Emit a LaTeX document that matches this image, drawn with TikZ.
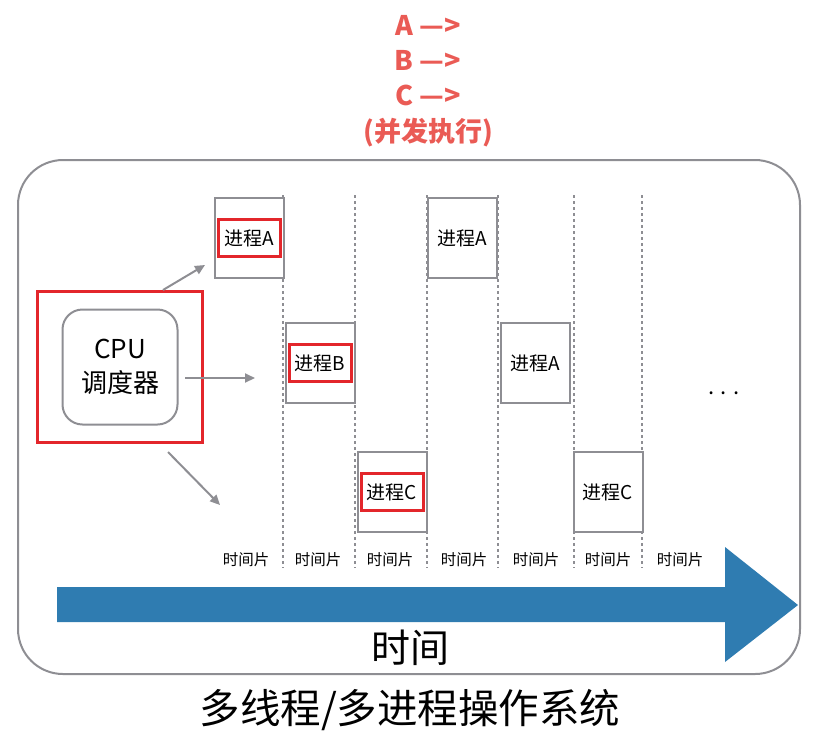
\documentclass[tikz,border=0pt]{standalone}
\usepackage{fontspec}
\setmainfont{Noto Sans CJK SC}
\usetikzlibrary{arrows.meta, positioning}
\definecolor{linegray}{HTML}{8E8E93}
\definecolor{boxred}{HTML}{E3262B}
\definecolor{titlered}{HTML}{EA5B55}
\definecolor{timeblue}{HTML}{2F7CB1}

\begin{document}
\begin{tikzpicture}[
      x=1pt, y=-1pt,
      >={Triangle[length=10pt, width=9pt]},
      proc/.style={draw=linegray, line width=2pt, fill=white, minimum width=69pt,
        minimum height=80pt, inner sep=0pt, font=\fontsize{19}{22}\selectfont},
      hl/.style={draw=boxred, line width=3pt, minimum width=62pt, minimum height=37pt,
        inner sep=0pt, font=\fontsize{19}{22}\selectfont},
      slice/.style={font=\fontsize{15.5}{18}\selectfont},
      title/.style={text=titlered, font=\bfseries\fontsize{27}{30}\selectfont},
      sched/.style={->, draw=linegray, fill=linegray, line width=2pt},
    ]
    \useasboundingbox (0,0) rectangle (821,740);

    % title
    \node[title] (ta) at (428,25) {A —>};
    \node[title] (tb) at (428,60) {B —>};
    \node[title] (tc) at (428,95) {C —>};
    \node[title] (tpar) at (428,133) {(并发执行)};

    % operating system frame
    \draw[linegray, line width=2pt, rounded corners=45pt] (18,160) rectangle (800,674);

    % time slices
    \foreach \x in {283,355,427,498,574,642}
      \draw[linegray, line width=1.8pt, dash pattern=on 3pt off 3pt] (\x,195) -- (\x,568);
    \foreach \x [count=\i] in {246,318,390,464,536,608,680}
      \node[slice] (ts\i) at (\x,560) {时间片};

    % processes
    \node[proc] (pa1) at (249,238) {};
    \node[hl] (hla) at (pa1) {进程A};
    \node[proc] (pb1) at (320,363) {};
    \node[hl] (hlb) at (pb1) {进程B};
    \node[proc] (pc1) at (392,492) {};
    \node[hl] (hlc) at (pc1) {进程C};
    \node[proc] (pa2) at (462,238) {进程A};
    \node[proc] (pa3) at (535,363) {进程A};
    \node[proc] (pc2) at (608,492) {进程C};
    \node[font=\fontsize{22}{24}\selectfont] (dots) at (724,393) {. . .};

    % scheduler
    \node[draw=boxred, line width=3pt, minimum width=165pt, minimum height=151pt] (cpu) at (120,367) {};
    \node[draw=linegray, line width=2pt, rounded corners=20pt, minimum width=115pt,
      minimum height=115pt, align=center, font=\fontsize{26}{34}\selectfont] (sch) at (cpu) {CPU\\调度器};

    \coordinate (s1) at (163,290);
    \coordinate (e1) at (205,265);
    \coordinate (s2) at (185,378);
    \coordinate (e2) at (255,378);
    \coordinate (s3) at (168,452);
    \coordinate (e3) at (220,505);
    \draw[sched] (s1) -- (e1);
    \draw[sched] (s2) -- (e2);
    \draw[sched] (s3) -- (e3);

    % time axis
    \fill[timeblue] (57,587) -- (725,587) -- (725,547) -- (798,605) -- (725,662)
      -- (725,622) -- (57,622) -- cycle;
    \node[font=\fontsize{39}{44}\selectfont] (time) at (410,648) {时间};

    \node[font=\fontsize{40.5}{46}\selectfont] (os) at (410,710) {多线程/多进程操作系统};
  \end{tikzpicture}
\end{document}
